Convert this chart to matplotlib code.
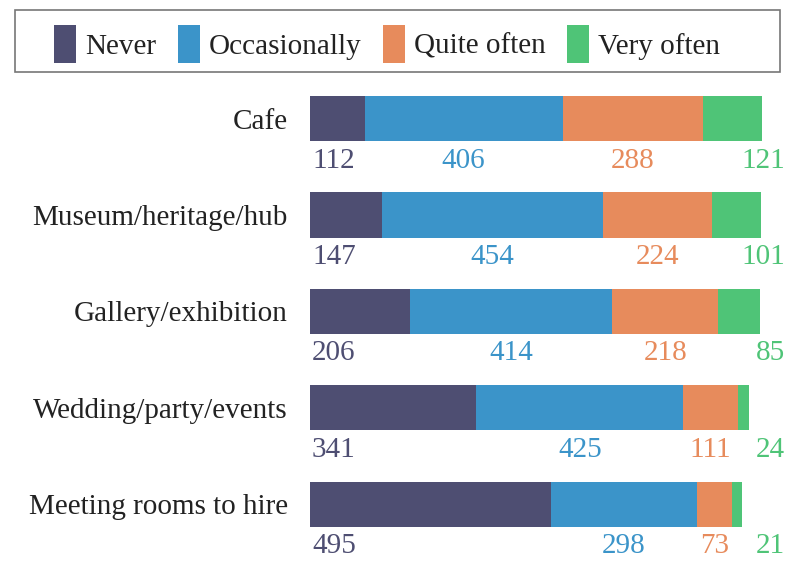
import matplotlib.pyplot as plt
from matplotlib.patches import Patch, Rectangle
import numpy as np

plt.rcParams['font.family'] = ['Liberation Serif', 'DejaVu Serif']

categories = ["Cafe", "Museum/heritage/hub", "Gallery/exhibition",
              "Wedding/party/events", "Meeting rooms to hire"]
series = ["Never", "Occasionally", "Quite often", "Very often"]
never = [112, 147, 206, 341, 495]
occasionally = [406, 454, 414, 425, 298]
quite_often = [288, 224, 218, 111, 73]
very_often = [121, 101, 85, 24, 21]

colors = ["#4e4e72", "#3b94c9", "#e78b5c", "#4fc477"]
fs = 21

values = np.array([never, occasionally, quite_often, very_often])
y = np.arange(len(categories))

fig = plt.figure(figsize=(7.96, 5.61), dpi=100)
ax = fig.add_axes([310 / 796, 0, 1 - 310 / 796, 1 - 85 / 561])

left = np.zeros(len(categories))
for i, name in enumerate(series):
    ax.barh(y, values[i], left=left, height=0.47, color=colors[i], label=name)
    for j in range(len(categories)):
        v = values[i][j]
        if i == 0:
            x, ha = left[j] + 4, 'left'
        elif i == len(series) - 1:
            x, ha = 975, 'right'
        else:
            x, ha = left[j] + v / 2, 'center'
        ax.text(x, y[j] + 0.3, str(v), ha=ha, va='top', color=colors[i], fontsize=fs)
    left += values[i]

ax.set_xlim(0, 997)
ax.set_ylim(4.59, -0.35)
ax.set_yticks(y)
ax.set_yticklabels(categories, fontsize=fs, color="#222222")
ax.tick_params(axis='y', length=0, pad=16)
ax.set_xticks([])
for s in ax.spines.values():
    s.set_visible(False)

# legend box drawn separately so the entries can sit centred in it
fig.add_artist(Rectangle((15 / 796, 1 - 72 / 561), 765 / 796, 62 / 561,
                         transform=fig.transFigure, fill=False,
                         edgecolor="#777777", linewidth=1.2))
handles = [Patch(facecolor=c) for c in colors]
leg = fig.legend(handles, series, loc='center', ncol=4,
                 bbox_to_anchor=(387 / 796, 1 - 44 / 561),
                 fontsize=fs, frameon=False,
                 handlelength=0.75, handleheight=1.6, handletextpad=0.3,
                 columnspacing=0.75)
for t in leg.get_texts():
    t.set_color("#222222")

fig.savefig("out.png", dpi=100)
